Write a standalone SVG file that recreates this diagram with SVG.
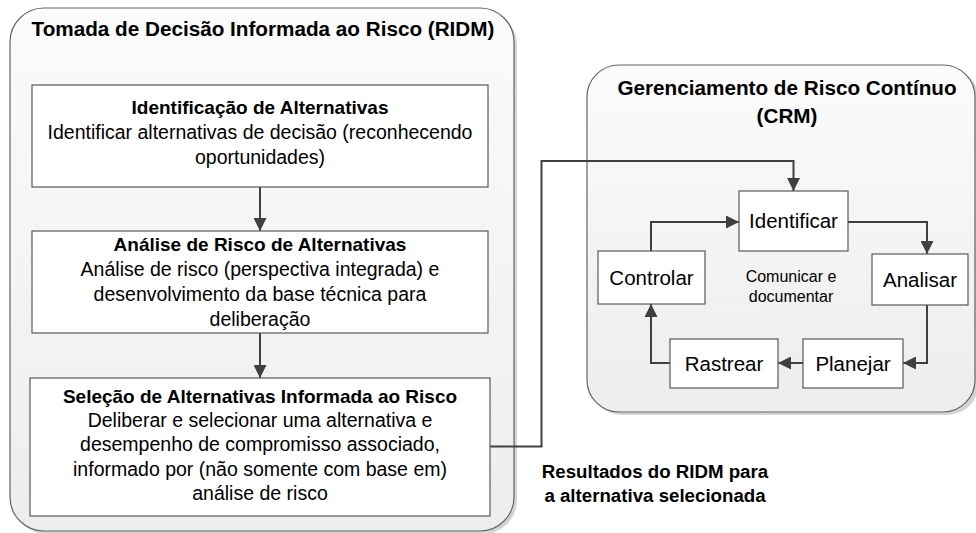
<svg xmlns="http://www.w3.org/2000/svg" width="976" height="533" viewBox="0 0 976 533">
<defs>
<linearGradient id="pg" x1="0" y1="0" x2="0" y2="1">
<stop offset="0" stop-color="#fbfbfb"/>
<stop offset="1" stop-color="#ededed"/>
</linearGradient>
<marker id="ah" markerWidth="13" markerHeight="13" refX="13" refY="6.5" orient="auto" markerUnits="userSpaceOnUse">
<path d="M0,0 L13,6.5 L0,13 z" fill="#404040"/>
</marker>
</defs>
<style>
.panel{fill:url(#pg);stroke:#666;stroke-width:1.2}
.shadow{fill:#d4d4d4}
.box{fill:#fff;stroke:#595959;stroke-width:1.2}
text{font-family:"Liberation Sans",Arial,sans-serif;fill:#000;text-anchor:middle}
.t{font-size:20.7px;font-weight:bold}
.h{font-size:19px;font-weight:bold}
.b{font-size:19.5px}
.s{font-size:16px}
.c{font-size:20.5px}
.l{font-size:18.7px;font-weight:bold}
.conn{fill:none;stroke:#404040;stroke-width:2;marker-end:url(#ah)}
</style>
<g id="ridm-panel">
<rect class="shadow" x="13" y="11" width="504" height="523" rx="34"/>
<rect class="panel" x="10" y="8" width="504" height="523" rx="34"/>
<text class="t" x="263" y="36">Tomada de Decisão Informada ao Risco (RIDM)</text>
</g>
<g id="crm-panel">
<rect class="shadow" x="590" y="68" width="389" height="347" rx="32"/>
<rect class="panel" x="587" y="65" width="388" height="347" rx="32"/>
<text class="t" x="787" y="95">Gerenciamento de Risco Contínuo</text>
<text class="t" x="787" y="123">(CRM)</text>
</g>
<g id="connectors">
<path class="conn" d="M260,187 V231"/>
<path class="conn" d="M260,333 V378"/>
<path class="conn" d="M490,446.5 H541.5 V161 H793.5 V191"/>
<path class="conn" d="M651,251 V222 H739"/>
<path class="conn" d="M848,222 H927 V254"/>
<path class="conn" d="M927,305 V363 H903"/>
<path class="conn" d="M803,363 H778"/>
<path class="conn" d="M670,363 H651 V304"/>
</g>
<g id="identificacao">
<rect class="box" x="32" y="85" width="456" height="102"/>
<text class="h" x="260" y="114">Identificação de Alternativas</text>
<text class="b" x="260" y="139">Identificar alternativas de decisão (reconhecendo</text>
<text class="b" x="260" y="164">oportunidades)</text>
</g>
<g id="analise">
<rect class="box" x="32" y="231" width="456" height="102"/>
<text class="h" x="260" y="251">Análise de Risco de Alternativas</text>
<text class="b" x="260" y="276">Análise de risco (perspectiva integrada) e</text>
<text class="b" x="260" y="301">desenvolvimento da base técnica para</text>
<text class="b" x="260" y="326">deliberação</text>
</g>
<g id="selecao">
<rect class="box" x="30" y="378" width="460" height="138"/>
<text class="h" x="260" y="403">Seleção de Alternativas Informada ao Risco</text>
<text class="b" x="260" y="427">Deliberar e selecionar uma alternativa e</text>
<text class="b" x="260" y="451">desempenho de compromisso associado,</text>
<text class="b" x="260" y="476">informado por (não somente com base em)</text>
<text class="b" x="260" y="500">análise de risco</text>
</g>
<g id="identificar">
<rect class="box" x="739" y="191" width="109" height="60"/>
<text class="c" x="793.5" y="228">Identificar</text>
</g>
<g id="controlar">
<rect class="box" x="598" y="251" width="107" height="53"/>
<text class="c" x="651.5" y="285">Controlar</text>
</g>
<g id="analisar">
<rect class="box" x="872" y="254" width="96" height="51"/>
<text class="c" x="920" y="287">Analisar</text>
</g>
<g id="planejar">
<rect class="box" x="803" y="339" width="100" height="49"/>
<text class="c" x="853" y="371">Planejar</text>
</g>
<g id="rastrear">
<rect class="box" x="670" y="339" width="108" height="49"/>
<text class="c" x="724" y="371">Rastrear</text>
</g>
<g id="comunicar">
<text class="s" x="791" y="282">Comunicar e</text>
<text class="s" x="791" y="302">documentar</text>
</g>
<g id="resultados-label">
<text class="l" x="655" y="478">Resultados do RIDM para</text>
<text class="l" x="655" y="502">a alternativa selecionada</text>
</g>
</svg>
